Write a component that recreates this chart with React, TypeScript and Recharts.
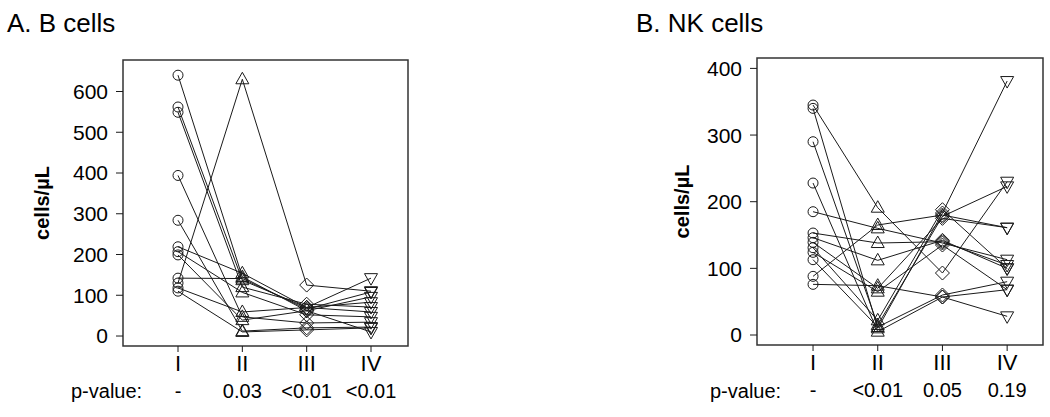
import React from 'react';
import { LineChart, Line, XAxis, YAxis, ReferenceArea } from 'recharts';

// Time points (categories)
const categories = ['I', 'II', 'III', 'IV'];

// p-values per time point
const pValuesB = ['-', '0.03', '<0.01', '<0.01'];
const pValuesNK = ['-', '<0.01', '0.05', '0.19'];

// A. B cells: one array per time point, one entry per subject
const bCellsI = [640, 562, 549, 394, 284, 219, 207, 199, 142, 130, 118, 110];
const bCellsII = [145, 137, 120, 47, 12, 154, 107, 39, 141, 630, 59, 10];
const bCellsIII = [62, 70, 78, 32, 20, 70, 52, 62, 66, 125, 70, 15];
const bCellsIV = [96, 83, 71, 34, 22, 59, 47, 10, 108, 110, 142, 20];

// B. NK cells
const nkI = [345, 340, 290, 228, 185, 153, 146, 139, 131, 124, 113, 88, 76];
const nkII = [191, 10, 15, 5, 160, 138, 112, 70, 22, 65, 12, 165, 74];
const nkIII = [93, 183, 178, 57, 138, 140, 142, 175, 188, 135, 60, 180, 57];
const nkIV = [230, 381, 223, 28, 113, 105, 100, 161, 100, 68, 80, 161, 68];

const bTicks = [0, 100, 200, 300, 400, 500, 600];
const nkTicks = [0, 100, 200, 300, 400];
const xTicks = [1, 2, 3, 4];

const FONT = 'Arial, "Liberation Sans", sans-serif';
const INK = '#1a1a1a';

function buildRows(cols: number[][]) {
  return categories.map((c, i) => {
    const row: Record<string, number | string> = { x: i + 1, cat: c };
    cols[i].forEach((v, j) => {
      row['s' + j] = v;
    });
    return row;
  });
}

const bRows = buildRows([bCellsI, bCellsII, bCellsIII, bCellsIV]);
const nkRows = buildRows([nkI, nkII, nkIII, nkIV]);

function renderMarker(props: any) {
  const { cx, cy, index } = props;
  const k = `m-${props.dataKey}-${index}`;
  if (cx == null || cy == null) return <g key={k} />;
  const common = { fill: 'none', stroke: INK, strokeWidth: 1 };
  if (index === 0) return <circle key={k} cx={cx} cy={cy} r={5} {...common} />;
  if (index === 1)
    return <polygon key={k} points={`${cx},${cy - 7} ${cx - 6.5},${cy + 4.5} ${cx + 6.5},${cy + 4.5}`} {...common} />;
  if (index === 2)
    return <polygon key={k} points={`${cx},${cy - 7} ${cx + 7},${cy} ${cx},${cy + 7} ${cx - 7},${cy}`} {...common} />;
  return <polygon key={k} points={`${cx},${cy + 7} ${cx - 6.5},${cy - 4.5} ${cx + 6.5},${cy - 4.5}`} {...common} />;
}

function makeXTick(pvals: string[]) {
  return (props: any) => {
    const { x, y, payload } = props;
    const i = payload.value - 1;
    return (
      <g>
        <text x={x} y={y + 17} textAnchor="middle" fontSize={22} fontFamily={FONT} fill="#000">
          {categories[i]}
        </text>
        <text x={x} y={y + 44} textAnchor="middle" fontSize={20} fontFamily={FONT} fill="#000">
          {pvals[i]}
        </text>
      </g>
    );
  };
}

type PanelProps = {
  rows: Record<string, number | string>[];
  n: number;
  width: number;
  yAxisWidth: number;
  top: number;
  right: number;
  xAxisHeight: number;
  xDomain: [number, number];
  yDomain: [number, number];
  yTicks: number[];
  pvals: string[];
};

function Panel(p: PanelProps) {
  const keys = Array.from({ length: p.n }, (_, j) => 's' + j);
  return (
    <LineChart
      width={p.width}
      height={417}
      data={p.rows}
      margin={{ top: p.top, right: p.right, bottom: 0, left: 0 }}
    >
      <XAxis
        type="number"
        dataKey="x"
        domain={p.xDomain}
        ticks={xTicks}
        allowDataOverflow
        axisLine={false}
        tickLine={{ stroke: INK }}
        tickSize={6}
        tickMargin={2}
        height={p.xAxisHeight}
        interval={0}
        tick={makeXTick(p.pvals)}
      />
      <YAxis
        type="number"
        domain={p.yDomain}
        ticks={p.yTicks}
        allowDataOverflow
        axisLine={false}
        tickLine={{ stroke: INK }}
        tickSize={7}
        tickMargin={8}
        width={p.yAxisWidth}
        interval={0}
        tick={{ fontSize: 21, fill: '#000', fontFamily: FONT }}
        label={{
          value: 'cells/µL',
          angle: -90,
          position: 'insideLeft',
          offset: 42,
          style: { textAnchor: 'middle', fontWeight: 'bold', fontSize: 20, fill: '#000', fontFamily: FONT },
        }}
      />
      <ReferenceArea
        x1={p.xDomain[0]}
        x2={p.xDomain[1]}
        y1={p.yDomain[0]}
        y2={p.yDomain[1]}
        fill="none"
        fillOpacity={0}
        stroke="#333"
        strokeWidth={1.5}
        ifOverflow="visible"
      />
      {keys.map((k) => (
        <Line
          key={k}
          dataKey={k}
          type="linear"
          stroke={INK}
          strokeWidth={1}
          dot={renderMarker}
          activeDot={false}
          isAnimationActive={false}
        />
      ))}
    </LineChart>
  );
}

export default function App() {
  return (
    <div style={{ position: 'absolute', left: 0, top: 0, width: 1050, height: 417, background: '#fff', overflow: 'hidden' }}>
      <div style={{ position: 'absolute', left: 0, top: 0 }}>
        <Panel
          rows={bRows}
          n={bCellsI.length}
          width={420}
          yAxisWidth={123}
          top={60}
          right={12}
          xAxisHeight={71}
          xDomain={[0.145, 4.575]}
          yDomain={[-24.5, 677.3]}
          yTicks={bTicks}
          pvals={pValuesB}
        />
      </div>
      <div style={{ position: 'absolute', left: 640, top: 0 }}>
        <Panel
          rows={nkRows}
          n={nkI.length}
          width={410}
          yAxisWidth={117}
          top={58}
          right={7}
          xAxisHeight={72}
          xDomain={[0.134, 4.554]}
          yDomain={[-15, 415.6]}
          yTicks={nkTicks}
          pvals={pValuesNK}
        />
      </div>
      <svg width={1050} height={417} style={{ position: 'absolute', left: 0, top: 0, pointerEvents: 'none' }}>
        <text x={7} y={32} fontSize={26} fontFamily={FONT} fill="#000">A. B cells</text>
        <text x={636} y={32} fontSize={26} fontFamily={FONT} fill="#000">B. NK cells</text>
        <text x={71} y={398} fontSize={20} fontFamily={FONT} fill="#000">p-value:</text>
        <text x={710} y={398} fontSize={20} fontFamily={FONT} fill="#000">p-value:</text>
      </svg>
    </div>
  );
}
